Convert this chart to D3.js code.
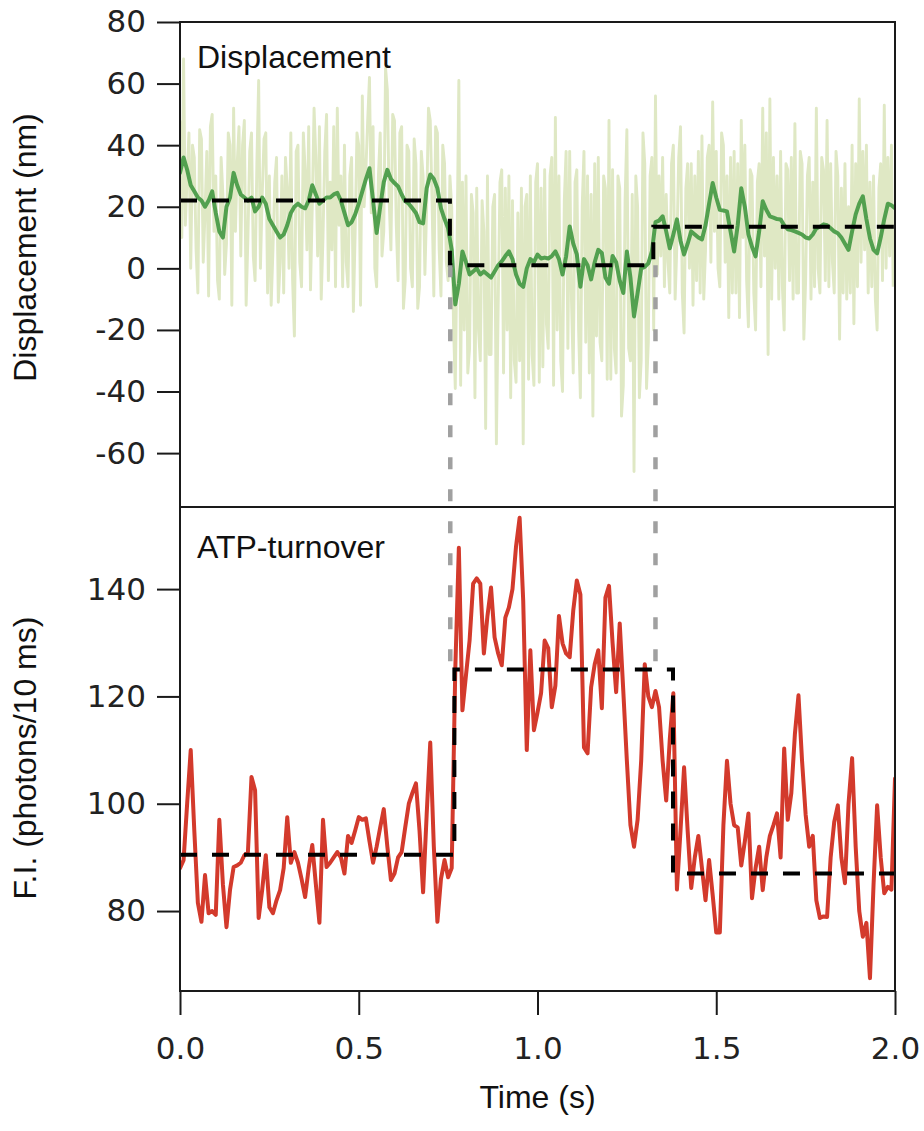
<!DOCTYPE html>
<html>
<head>
<meta charset="utf-8">
<script src="https://cdn.jsdelivr.net/npm/d3@7"></script>
<style>
  html, body { margin: 0; padding: 0; background: #fff; }
  svg { display: block; }
</style>
</head>
<body>
<svg id="chart" width="924" height="1131"></svg>
<script>
// ---------------- DATA ----------------
// smoothed displacement (nm), 10 ms bins, t = i*0.01 s
const dispSmooth = [
 31,36,32,27,25,23,22,20,22,25, 18,12,10,20,23,31,27,24,23,22,
 23,18.5,20,23,21,16,14,12,10,11, 14,18,20,21,20,19.5,22,27,24,21,
 22,23,23,24,24.5,22,18,14,15,17.5, 21,25,29,32.5,22,11.5,20,28,32,29,
 27.7,26.6,24,21.8,21,19.5,18,15,14.6,26, 30.5,29,26,19.5,16,13,6,-11.7,-5,5.5,
 2,-2,-1,0,-2,-1,-2,-3,-1,1, 2.3,4,5.5,3,-2,-5,-6,0,3,2,
 4.5,3.2,3.5,3.2,4,5.5,3,-2,3.9,13.6, 8,4.5,-6,3,1,-3.6,2,6,5,-3,
 -5,4,2,-4,-8,5.5,-3,-15.6,-8,0, 0.5,1.6,5.5,15,15.5,16.9,12,6.5,11,15.9,
 9,4.5,8,12,11,10,9.4,14,21,27.7, 23,19,18.8,18.5,12,5.5,14,26,20,11,
 7,3.9,12,21.8,19,16.9,16.5,16,15.9,14, 12.7,12.4,12,11.5,11,10,9.7,11,13,13.5,
 14.3,14,13,12,11.4,10,8,6,12,17.5, 21,23.4,16,9.7,6,4.9,10,16,21,20.5,
 19.5
];
// raw displacement (nm), 5 ms samples, t = j*0.005 s
const dispRaw = [
 48,10, 68,14, 30,44, 0,40, 36,6, -8,45, 42,2, 18,38, -9,46, 50,12,
 30,-4, -10,36, 24,-2, 8,44, 40,-12, 52,12, 34,46, 4,40, 48,-12, 10,38,
 44,4, -4,34, 61,0, 24,42, 44,-8, 30,-12, 6,28, 36,-11, 2,30, -8,36,
 26,0, 44,-4, -22,38, 40,2, -6,44, 32,6, 46,-7, 20,52, 36,4, 46,-10,
 10,38, 50,-4, 28,6, 46,-6, 52,14, 30,-6, 40,2, -6,30, 36,-14, 12,44,
 40,-12, 56,20, 32,48, 62,18, 46,0, -6,30, 44,4, 12,65, 58,22, 6,50,
 48,14, -4,44, 46,-13, -4,40, 38,0, -6,42, 34,-13, -6,38, 30,-2, 20,52,
 48,22, -9,46, 44,6, -9,40, 34,2, -4,30, 20,-18, -39,8, 61,-38, 28,-20,
 30,-34, -26,24, 18,-42, 26,-20, -30,22, 12,-52, 30,-28, -28,20, 24,-57, -12,28,
 32,-34, 26,-20, 30,-42, 22,-30, -37,18, -30,26, -57,20, 24,-36, 30,-28, -38,28,
 34,-37, 26,-32, 32,-18, -26,30, 36,-38, 49,-20, 30,-30, -40,22, 38,-26, 38,-10,
 -34,28, 32,-20, -42,20, 38,-24, 30,-34, 24,-48, 34,-22, 36,-24, -30,30, 26,-36,
 48,-36, 32,-26, -34,30, 26,-48, -38,22, 45,-26, -30,24, -66,30, 20,-42, -30,44,
 34,-39, -24,30, 36,-20, 56,-2, 30,4, 36,-6, 24,2, -8,34, 40,-10, 8,36,
 46,-8, -21,26, 34,0, 34,-12, 30,-4, 38,-8, 43,-10, 6,36, 40,2, 54,12,
 38,0, -6,44, 40,2, 30,-16, 36,-8, 38,-8, 34,-16, 48,10, 40,-4, -19,32,
 30,-8, -20,28, 34,-6, 52,4, 44,-28, 55,-10, 36,0, 30,-10, 38,-6, -20,34,
 32,-4, 36,-10, 47,-8, -8,38, 34,-23, -4,30, 36,-10, 28,-6, 52,0, -8,36,
 32,-4, 48,-6, 34,2, -8,38, 30,-23, 26,-8, 34,-10, 20,-8, 40,-18, 34,-6,
 55,2, 38,6, 40,-8, 28,-6, 30,-10, -20,26, 34,-4, 53,0, 36,4, 40,-6
];
// fluorescence intensity (photons / 10 ms), t = i*0.01 s
const fluor = [
 88,89.5,100,110,95,81.5,78,86.7,79.6,80, 79.3,97,85,77,84,88.2,88.5,89,90.4,91,
 105,102.5,78.7,84,90.4,80.7,79.6,82,83.9,88, 97.5,89,91,89,86,82.6,88,92.3,85,77.8,
 97,88.2,89,90,91,90,87,94,92.7,95, 97.5,97,97.3,93,89,92,95.6,99,92,85.8,
 87,90,91,95.6,100,102,103.8,95,83.5,98, 111.4,92,78,86,89.5,86.3,88,125,147.7,117.4,
 124,130.4,141,142,141,128,135,140.3,131,128, 125.8,134.7,136.6,140,148,153.3,137.9,110,128.6,113.7,
 117,120.6,130.4,129,118,122,135,129.9,128,127.3, 136,141.6,139,110.5,109.4,121.7,126,128.6,117.8,138.4,
 140.6,130,120.8,133.6,121,108,96,92,97,108, 126,120,118,121,118,108,100.6,112,120.6,84,
 95,106.8,95,84.3,90,94,88,82,89.5,83, 76,76,96,108,100,96,95.6,88.5,93,98.2,
 82.4,88,92,83.9,90,94,96,98.2,90,110.3, 97,102,113,120.2,108,98,92,94,82,78.7,
 79,78.9,90,96.6,99.7,90,85.2,100,108.5,92, 80,75.2,77.8,67.5,85,99.7,90,83.3,84.5,84,
 104.7
];
// step fits
const dispStepTimes  = [0, 0.755, 1.324, 2.0];
const dispStepLevels = [22, 1, 13.5, 13.5];
const fluorStepTimes  = [0, 0.7675, 1.379, 2.0];
const fluorStepLevels = [90.5, 125, 87, 87];
// event markers (grey dashed): time, from displacement level to fluorescence level
const eventTimes = [0.756, 1.330];
const eventDispLevel = 1;
const eventFluorLevel = 125;
// ticks
const timeTicks  = [0, 0.5, 1.0, 1.5, 2.0];
const timeTickLabels = ["0.0", "0.5", "1.0", "1.5", "2.0"];
const dispTicks  = [80, 60, 40, 20, 0, -20, -40, -60];
const fluorTicks = [80, 100, 120, 140];
const dispDomain  = [-77.5, 80];
const fluorDomain = [65.1, 155.3];

// ---------------- CHART ----------------
const svg = d3.select("#chart");
const L = 180, R = 895, T = 22, MID = 507, B = 991;

const x = d3.scaleLinear().domain([0, 2]).range([L, R]);
const yTop = d3.scaleLinear().domain(dispDomain).range([MID, T]);
const yBot = d3.scaleLinear().domain(fluorDomain).range([B, MID]);

const defs = svg.append("defs");
defs.append("clipPath").attr("id", "clipTop")
  .append("rect").attr("x", L).attr("y", T).attr("width", R - L).attr("height", MID - T);
defs.append("clipPath").attr("id", "clipBot")
  .append("rect").attr("x", L).attr("y", MID).attr("width", R - L).attr("height", B - MID);

const tickFont = "'DejaVu Sans', Verdana, sans-serif";
const labelFont = "'Liberation Sans', Arial, Helvetica, sans-serif";

// top panel traces
const gTop = svg.append("g").attr("clip-path", "url(#clipTop)");
const rawLine = d3.line().x((d, j) => x(j * 0.005)).y(d => yTop(d));
gTop.append("path").datum(dispRaw)
  .attr("d", rawLine)
  .attr("fill", "none").attr("stroke", "#dfe8c4").attr("stroke-width", 2.9)
  .attr("stroke-linejoin", "round");

const smoothLine = d3.line().x((d, i) => x(i * 0.01)).y(d => yTop(d));
gTop.append("path").datum(dispSmooth)
  .attr("d", smoothLine)
  .attr("fill", "none").attr("stroke", "#52a04f").attr("stroke-width", 4)
  .attr("stroke-linejoin", "round").attr("stroke-linecap", "round");

const stepTop = d3.line().curve(d3.curveStepAfter)
  .x(i => x(dispStepTimes[i])).y(i => yTop(dispStepLevels[i]));
gTop.append("path").datum(d3.range(dispStepTimes.length))
  .attr("d", stepTop)
  .attr("fill", "none").attr("stroke", "#000").attr("stroke-width", 4)
  .attr("stroke-dasharray", "17,15");

// bottom panel traces
const gBot = svg.append("g").attr("clip-path", "url(#clipBot)");
const fluorLine = d3.line().x((d, i) => x(i * 0.01)).y(d => yBot(d));
gBot.append("path").datum(fluor)
  .attr("d", fluorLine)
  .attr("fill", "none").attr("stroke", "#d33a2c").attr("stroke-width", 4)
  .attr("stroke-linejoin", "round").attr("stroke-linecap", "round");

const stepBot = d3.line().curve(d3.curveStepAfter)
  .x(i => x(fluorStepTimes[i])).y(i => yBot(fluorStepLevels[i]));
gBot.append("path").datum(d3.range(fluorStepTimes.length))
  .attr("d", stepBot)
  .attr("fill", "none").attr("stroke", "#000").attr("stroke-width", 4)
  .attr("stroke-dasharray", "17,15");

// grey event lines
svg.append("g").selectAll("line").data(eventTimes).join("line")
  .attr("x1", d => x(d)).attr("x2", d => x(d))
  .attr("y1", yTop(eventDispLevel)).attr("y2", yBot(eventFluorLevel))
  .attr("stroke", "#a0a0a0").attr("stroke-width", 4.5)
  .attr("stroke-dasharray", "12,20");

// frame
const frame = svg.append("g").attr("fill", "none").attr("stroke", "#1a1a1a").attr("stroke-width", 2);
frame.append("rect").attr("x", L).attr("y", T).attr("width", R - L).attr("height", B - T);
frame.append("line").attr("x1", L).attr("x2", R).attr("y1", MID).attr("y2", MID);

// axes
function styleAxis(g) {
  g.select(".domain").remove();
  g.selectAll(".tick line").attr("stroke", "#1a1a1a").attr("stroke-width", 2);
  g.selectAll(".tick text").attr("fill", "#222")
    .style("font-family", tickFont).style("font-size", "31px");
}
svg.append("g").attr("transform", `translate(${L},0)`)
  .call(d3.axisLeft(yTop).tickValues(dispTicks).tickSize(23).tickPadding(11).tickFormat(d => String(d)))
  .call(styleAxis);
svg.append("g").attr("transform", `translate(${L},0)`)
  .call(d3.axisLeft(yBot).tickValues(fluorTicks).tickSize(23).tickPadding(11).tickFormat(d => String(d)))
  .call(styleAxis);
svg.append("g").attr("transform", `translate(0,${B})`)
  .call(d3.axisBottom(x).tickValues(timeTicks).tickSize(24).tickPadding(22)
    .tickFormat((d, i) => timeTickLabels[i]))
  .call(styleAxis);

// axis titles
svg.append("text").text("Displacement (nm)")
  .attr("transform", `translate(36,${(T + MID) / 2 - 17}) rotate(-90)`)
  .attr("text-anchor", "middle").style("font-family", labelFont).style("font-size", "32px").attr("fill", "#111");
svg.append("text").text("F.I. (photons/10 ms)")
  .attr("transform", `translate(36,${(MID + B) / 2 + 9}) rotate(-90)`)
  .attr("text-anchor", "middle").style("font-family", labelFont).style("font-size", "32px").attr("fill", "#111");
svg.append("text").text("Time (s)")
  .attr("x", (L + R) / 2).attr("y", 1108)
  .attr("text-anchor", "middle").style("font-family", labelFont).style("font-size", "32px").attr("fill", "#111");

// panel labels
svg.append("text").text("Displacement")
  .attr("x", 197).attr("y", 68)
  .style("font-family", labelFont).style("font-size", "32px").attr("fill", "#111");
svg.append("text").text("ATP-turnover")
  .attr("x", 197).attr("y", 558)
  .style("font-family", labelFont).style("font-size", "32px").attr("fill", "#111");
</script>
</body>
</html>
